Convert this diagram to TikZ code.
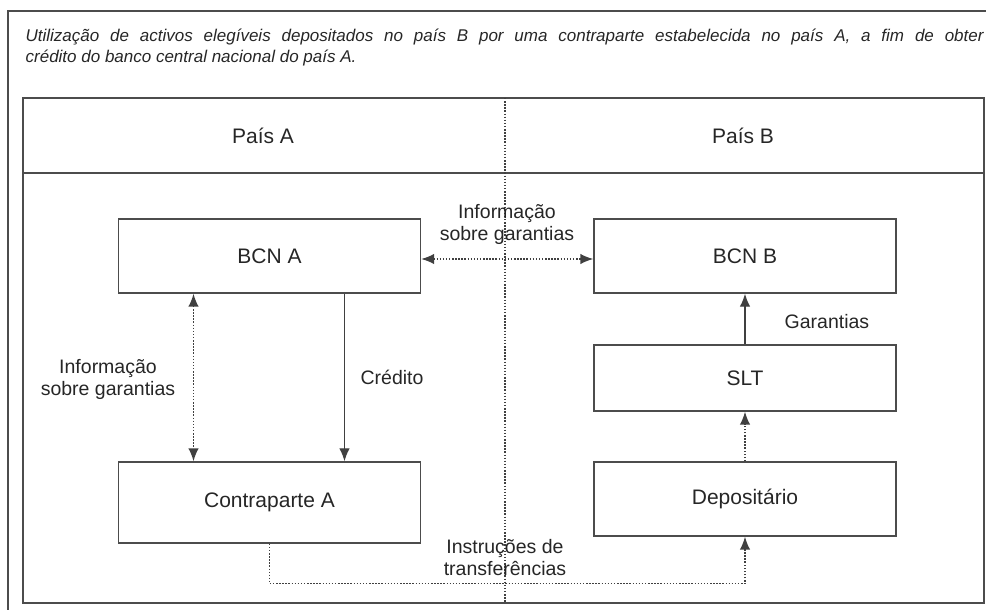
\documentclass[tikz,border=0pt]{standalone}
\usepackage{fontspec}
\setmainfont{Liberation Sans}
\usetikzlibrary{arrows.meta,positioning,calc}

\begin{document}
\begin{tikzpicture}[x=1pt,y=-1pt,>={Latex[length=13pt,width=10.5pt]},
  line width=1.3pt,draw=black!75,text=black!85,
  box/.style={draw=black!70,line width=1.4pt,minimum width=302pt,minimum height=74pt,
    inner sep=0pt,font=\fontsize{21}{24}\selectfont},
  lbl/.style={font=\fontsize{19.5}{22}\selectfont,align=center,inner sep=0pt},
  dots/.style={line width=1.5pt,dash pattern=on 1.5pt off 1.6pt}]
  \useasboundingbox (0,0) rectangle (986,610);
% Frame and title
  \draw[line width=1.4pt,black!70] (8,610) -- (8,11) -- (986,11);
  \node[anchor=base west,inner sep=0pt,font=\fontsize{17}{21}\selectfont\itshape] (title)
    at (25,42) {\makebox[958pt][s]{Utilização de activos elegíveis depositados no país B por uma contraparte estabelecida no país A, a fim de obter}};
  \node[anchor=base west,inner sep=0pt,font=\fontsize{17}{21}\selectfont\itshape] (title2)
    at (25,63) {crédito do banco central nacional do país A.};
% Table
  \draw[line width=1.4pt,black!70] (23,98) rectangle (984,603);
  \draw[line width=1.4pt,black!70] (23,173) -- (984,173);
  \draw[dots] (505,98) -- (505,603);
  \node[lbl,font=\fontsize{21}{24}\selectfont] (paisA) at (263,136) {País A};
  \node[lbl,font=\fontsize{21}{24}\selectfont] (paisB) at (743,136) {País B};
% Country A
  \node[box] (bcna) at (269.5,256) {BCN A};
  \node[box,minimum height=81pt] (contra) at (269.5,502.5) {Contraparte A};
  \draw[<->,dots] ([xshift=-76pt]bcna.south) -- ([xshift=-76pt]contra.north);
  \draw[->] ([xshift=75pt]bcna.south) -- ([xshift=75pt]contra.north);
  \node[lbl] (infoA) at (108,379) {Informação\\sobre garantias};
  \node[lbl,anchor=west] (cred) at (360,377) {Crédito};
% Country B
  \node[box] (bcnb) at (745,256) {BCN B};
  \node[box,minimum height=66pt] (slt) at (745,378) {SLT};
  \node[box] (dep) at (745,499) {Depositário};
  \draw[->] (slt.north) -- (bcnb.south);
  \draw[->,dots] (dep.north) -- (slt.south);
  \node[lbl,anchor=west] (gar) at (784,322) {Garantias};
%
  \draw[<->,dots] ([yshift=-3pt]bcna.east) -- ([yshift=-3pt]bcnb.west);
  \node[lbl] (infoAB) at (507,224) {Informação\\sobre garantias};
  \draw[->,dots] (contra.south) -- ++(0,40) -| (dep.south);
  \node[lbl] (instr) at (505,558) {Instruções de\\transferências};
\end{tikzpicture}
\end{document}
